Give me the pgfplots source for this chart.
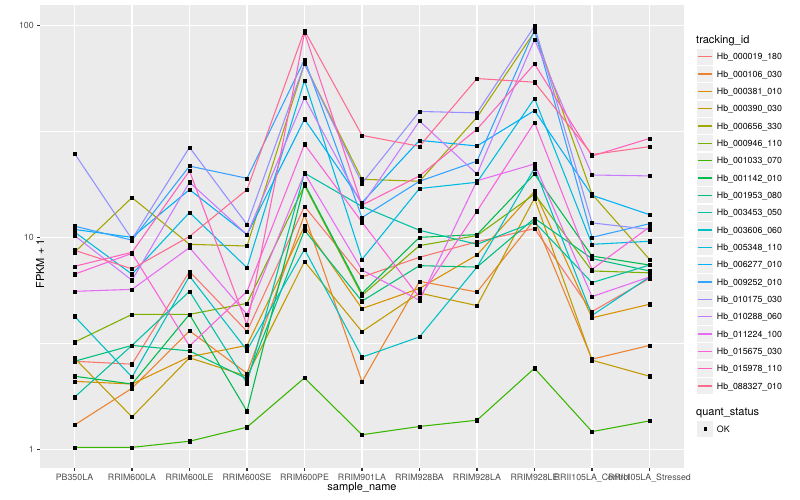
\documentclass[border=0pt]{standalone}
\usepackage{pgfplots}
\pgfplotsset{compat=1.18}
\usepackage{pgfplotstable}
\usepackage{fontspec}
\setmainfont{TeX Gyre Heros}

% ggplot hue palette, 20 levels
\definecolor{c1}{HTML}{F8766D}
\definecolor{c2}{HTML}{EA8331}
\definecolor{c3}{HTML}{D89000}
\definecolor{c4}{HTML}{C09B00}
\definecolor{c5}{HTML}{A3A500}
\definecolor{c6}{HTML}{7CAE00}
\definecolor{c7}{HTML}{39B600}
\definecolor{c8}{HTML}{00BB4E}
\definecolor{c9}{HTML}{00BF7D}
\definecolor{c10}{HTML}{00C1A3}
\definecolor{c11}{HTML}{00BFC4}
\definecolor{c12}{HTML}{00BAE0}
\definecolor{c13}{HTML}{00B0F6}
\definecolor{c14}{HTML}{35A2FF}
\definecolor{c15}{HTML}{9590FF}
\definecolor{c16}{HTML}{C77CFF}
\definecolor{c17}{HTML}{E76BF3}
\definecolor{c18}{HTML}{FA62DB}
\definecolor{c19}{HTML}{FF62BC}
\definecolor{c20}{HTML}{FF6C91}
\definecolor{panel}{HTML}{EBEBEB}
\definecolor{keybg}{HTML}{EFEFEF}
\definecolor{ticktext}{HTML}{4D4D4D}
\definecolor{tickline}{HTML}{333333}

% FPKM + 1, rows = samples (0..10), columns = tracking ids
\pgfplotstableread{
x s1 s2 s3 s4 s5 s6 s7 s8 s9 s10 s11 s12 s13 s14 s15 s16 s17 s18 s19 s20
0 2.6 1.30 2.09 2.69 8.5 3.2 1.02 2.21 2.6 1.76 4.24 10.6 10.9 11.3 24.9 10.2 5.56 6.7 7.3 8.69
1 2.52 1.94 2.03 1.42 15.4 4.33 1.02 2.03 3.09 3.09 2.19 6.7 10.0 9.7 9.8 6.27 5.68 8.4 8.5 7.1
2 6.9 3.62 2.73 2.70 9.27 4.33 1.09 4.33 2.91 5.56 6.56 13.1 16.8 21.7 26.6 18.2 8.95 3.07 20.6 10.1
3 3.6 2.28 3.09 2.21 9.1 4.88 1.27 1.51 2.15 2.05 2.93 7.19 10.3 19.0 11.5 10.3 4.33 5.56 3.86 16.8
4 14.0 12.8 11.3 7.69 65.9 17.6 2.17 17.9 10.8 20.1 8.78 55.0 36.1 69.1 65.9 45.6 20.1 27.5 92.4 94.7
5 6.50 2.08 4.61 3.59 18.8 5.32 1.17 5.44 5.0 14.0 2.72 7.87 14.6 12.4 18.0 14.2 7.01 11.8 14.2 30.3
6 8.05 6.2 5.74 5.46 18.4 9.14 1.28 10.0 7.35 10.8 3.39 17.0 28.7 18.4 39.3 35.4 5.04 5.2 19.5 26.9
7 9.53 5.52 8.26 4.76 36.9 10.2 1.37 10.3 7.24 9.27 7.24 18.2 27.0 22.9 38.7 19.9 18.5 13.3 32.4 56.2
8 11.0 12.1 16.5 15.3 93.4 16.0 2.41 19.9 12.3 11.8 21.2 45.3 39.7 95.0 99.3 85.9 22.2 34.9 65.9 54.0
9 4.46 2.66 4.17 2.63 16.0 6.94 1.21 8.16 7.94 6.11 4.28 9.27 15.8 10.0 11.7 19.7 5.25 7.06 24.2 24.6
10 6.4 3.09 4.83 2.21 7.87 6.8 1.36 7.4 6.94 7.4 6.5 9.58 12.8 11.6 10.9 19.5 6.5 11.2 29.3 26.8
}\fpkm

\begin{document}
\begin{tikzpicture}[x=1pt,y=1pt]
\path[use as bounding box] (0,0) rectangle (800,500);

\begin{axis}[
  at={(40pt,32pt)}, anchor=south west,
  scale only axis, width=644pt, height=463pt,
  xmin=-0.6, xmax=10.6,
  ymode=log, ymin=0.815, ymax=125,
  xtick={0,...,10},
  xticklabels={PB350LA,RRIM600LA,RRIM600LE,RRIM600SE,RRIM600PE,RRIM901LA,RRIM928BA,RRIM928LA,RRIM928LE,RRII105LA\_Control,RRII105LA\_Stressed},
  ytick={1,10,100}, yticklabels={1,10,100},
  minor ytick={3.16228,31.6228},
  xmajorgrids, ymajorgrids, yminorgrids,
  major grid style={white, line width=1.07pt},
  minor grid style={white, line width=0.53pt},
  axis background/.style={fill=panel},
  axis line style={draw=none},
  tick align=outside, tick pos=left,
  major tick length=2.75pt, minor tick length=0pt,
  tick style={tickline, line width=1.07pt},
  ticklabel style={font=\fontsize{8.8}{10}\selectfont, text=ticktext},
  every axis x label/.style={at={(axis description cs:0.5,0)}, anchor=north, yshift=-14pt, inner sep=0pt},
  every axis y label/.style={at={(axis description cs:0,0.5)}, rotate=90, anchor=center, xshift=-27.5pt, inner sep=0pt},
  label style={font=\fontsize{11}{13}\selectfont},
  xlabel={sample\_name},
  ylabel={FPKM + 1},
]
\pgfplotsinvokeforeach{1,...,20}{
  \addplot[c#1, line width=1.07pt, mark=none] table[x=x, y=s#1]{\fpkm};
}
\pgfplotsinvokeforeach{1,...,20}{
  \addplot[only marks, mark=square*, mark size=1.6pt, black] table[x=x, y=s#1]{\fpkm};
}
\end{axis}

% legend: tracking_id
\node[anchor=base west, inner sep=0pt, font=\fontsize{11}{13}\selectfont] at (696,456.5) {tracking\_id};
\foreach \i/\name in {1/000019\_180,2/000106\_030,3/000381\_010,4/000390\_030,5/000656\_330,
    6/000946\_110,7/001033\_070,8/001142\_010,9/001953\_080,10/003453\_050,
    11/003606\_060,12/005348\_110,13/006277\_010,14/009252\_010,15/010175\_030,
    16/010288\_060,17/011224\_100,18/015675\_030,19/015978\_110,20/088327\_010}{
  \pgfmathsetmacro\yc{443.3-(\i-1)*17.33}
  \fill[keybg] (697,\yc-8.1) rectangle (713.3,\yc+8.1);
  \draw[c\i, line width=1.07pt] (698.3,\yc) -- (712.0,\yc);
  \node[anchor=base west, inner sep=0pt, font=\fontsize{8.8}{10}\selectfont] at (716.7,\yc-3.15) {Hb\_\name};
}

% legend: quant_status
\node[anchor=base west, inner sep=0pt, font=\fontsize{11}{13}\selectfont] at (696,84.3) {quant\_status};
\fill[keybg] (697,71-8.1) rectangle (713.3,71+8.1);
\fill[black] (703.5,69.3) rectangle (706.9,72.7);
\node[anchor=base west, inner sep=0pt, font=\fontsize{8.8}{10}\selectfont] at (716.7,71-3.15) {OK};
\end{tikzpicture}
\end{document}
